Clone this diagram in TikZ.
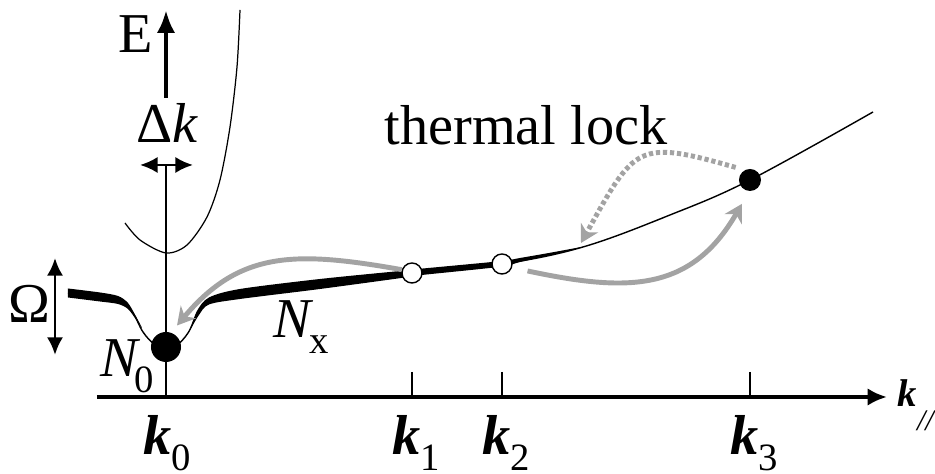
\documentclass[tikz,border=0pt]{standalone}
\usepackage{fontspec}
\setmainfont{Liberation Serif}
\usetikzlibrary{arrows.meta}
\definecolor{arcgray}{gray}{0.64}
\newcommand{\lowidx}[1]{\raisebox{-0.27em}{\fontsize{11}{11}\selectfont #1}}
\newcommand{\kvec}[1]{\textbf{\textit{k}}\lowidx{#1}}

\begin{document}
\begin{tikzpicture}[x=0.01cm,y=-0.01cm,
  font=\fontsize{16}{19}\selectfont,
  thinline/.style={line width=0.35pt},
  flow/.style={arcgray,line width=1.4pt,-{Stealth[length=5pt,width=5.6pt,inset=1.6pt]}},
  fulldot/.style={circle,fill=black,inner sep=0pt},
  opendot/.style={circle,draw,fill=white,line width=0.4pt,inner sep=0pt,minimum size=0.2cm},
  bothways/.style={line width=0.75pt,{Latex[length=5pt,width=4.6pt]}-{Latex[length=5pt,width=4.6pt]}}]
  \useasboundingbox (0,0) rectangle (935,474);
  % axis and marks
  \draw[line width=1.4pt,-{Latex[length=5.5pt,width=5pt]}] (97,397)--(887,397);
  \node[anchor=base west,inner sep=0pt] (kpar) at (897,407)
    {\fontsize{11}{11}\selectfont\textbf{\textit{k}}\raisebox{-0.62em}{\fontsize{8.5}{8.5}\selectfont\textit{//}}};
  \draw[thinline] (166,165)--(166,397);
  \node[anchor=base] (k0) at (167,455) {\kvec{0}};
  \foreach \x/\i in {412/1,502/2,750/3} {
    \draw[thinline] (\x,372)--(\x,397);
    \node[anchor=base] (k\i) at (\x+4,455) {\kvec{\i}};
  }
  % energy arrow, widths
  \draw[line width=1.4pt,-{Latex[length=6.5pt,width=5.2pt]}] (166,98)--(166,10);
  \node[anchor=base] (E) at (136,53) {E};
  \draw[bothways] (140,165)--(193,165);
  \node[anchor=base] (dk) at (167,143) {Δ\textit{k}};
  \draw[bothways,line width=0.85pt] (55,258)--(55,355);
  \node[anchor=base] (Om) at (29,323) {Ω};
  % upper branch
  \draw[thinline] plot[smooth] coordinates {(125,223) (140,240) (166,253) (187,245)
    (207,217) (220,180) (230,127) (237,67) (240,10)};
  % lower branch
  \draw[line width=0.4pt] plot[smooth,tension=0.6] coordinates {(68,293) (100,297)
    (122,302) (133,313) (143,332) (155,345) (166,349) (177,345) (188,333) (198,313)
    (210,301) (240,294) (320,284) (412,273) (502,264) (583,247) (670,215) (750,180)
    (873,112)};
  \fill plot[smooth,tension=0.5] coordinates {(68,288.5) (100,292.5) (118,296)
    (128,303) (136,316.5) (142,327.7)}
    -- plot[smooth,tension=0.5] coordinates {(142,328.3) (136,319.5) (128,309)
    (118,304) (100,301.5) (68,297.5)} -- cycle;
  \fill plot[smooth,tension=0.5] coordinates {(190,329.7) (197,311) (209,297.5)
    (240,289) (320,279) (405,270.5) (420,268.8) (500,261.2) (520,258)
    (550,252.8) (583,246.7)}
    -- plot[smooth,tension=0.5] coordinates {(583,247.3) (550,255.2) (520,262)
    (500,266.8) (420,275.2) (405,277.5) (320,289) (240,299) (209,304.5)
    (199,315) (190,330.3)} -- cycle;
  % states
  \node[fulldot,minimum size=0.3cm] (N0) at (166,347) {};
  \node[opendot] (p1) at (412,273) {};
  \node[opendot] (p2) at (502,264) {};
  \node[fulldot,minimum size=0.22cm] (p3) at (750,180) {};
  \coordinate (lock) at (581,243);
  \node[anchor=base] (n0lab) at (127,377) {\textit{N}\kern-0.12em\lowidx{0}};
  \node[anchor=base] (nxlab) at (301,338) {\textit{N}\kern-0.08em\lowidx{x}};
  \node[anchor=base] (tl) at (526,145) {thermal lock};
  % relaxation paths
  \draw[flow,shorten >=2.5pt] (p1.162) to[out=170,in=50,looseness=1.15] (N0.70);
  \draw[flow,shorten <=4.5pt,shorten >=4pt] (p2.-20) to[out=-12,in=240,looseness=1.2] (p3.265);
  \draw[flow,dash pattern=on 1.2pt off 0.8pt,shorten <=2.5pt] (p3.120)
    to[out=164,in=61,looseness=1.6] (lock);
\end{tikzpicture}
\end{document}
